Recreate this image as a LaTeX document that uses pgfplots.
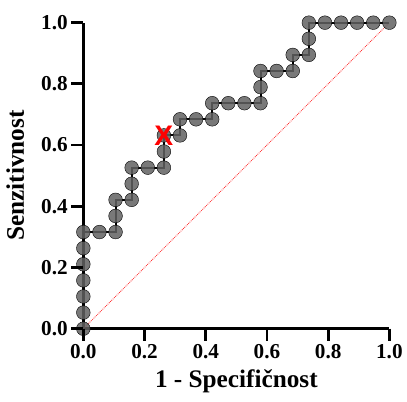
\documentclass[border={3bp 5bp 1bp 12bp}]{standalone}
\usepackage{fontspec}
\setmainfont{Liberation Serif}
\newfontfamily\xfont{Liberation Sans}
\usepackage{pgfplots}
\pgfplotsset{compat=1.18}
\begin{document}
\begin{tikzpicture}
\begin{axis}[
  scale only axis, width=303bp, height=303bp,
  xmin=0, xmax=1, ymin=0, ymax=1,
  axis x line*=bottom, axis y line*=left,
  axis line style={line width=2.8pt, -},
  xtick={0,0.2,0.4,0.6,0.8,1.0}, ytick={0,0.2,0.4,0.6,0.8,1.0},
  xticklabels={0.0,0.2,0.4,0.6,0.8,1.0}, yticklabels={0.0,0.2,0.4,0.6,0.8,1.0},
  tickwidth=12bp,
  xtick align=outside, ytick align=outside,
  xtick style={line width=2.8pt, draw=black},
  ytick style={line width=2.8pt, draw=black},
  tick label style={font=\fontsize{21bp}{23bp}\selectfont\bfseries},
  /pgf/number format/assume math mode=true,
  xlabel={1 - Specifičnost}, ylabel={Senzitivnost},
  label style={font=\fontsize{25bp}{27bp}\selectfont\bfseries},
  xlabel style={yshift=-4bp},
  ylabel style={yshift=10bp},
]
\addplot[red!80, densely dotted, line width=0.8pt] coordinates {(0,0) (1,1)};
\addplot[only marks, mark=*, mark size=6.8bp, mark options={draw=none, fill=black!62, fill opacity=0.85}] table[x expr=\thisrowno{0}/19, y expr=\thisrowno{1}/19] {
0 0
0 1
0 2
0 3
0 4
0 5
0 6
1 6
2 6
2 7
2 8
3 8
3 9
3 10
4 10
5 10
5 11
5 12
6 12
6 13
7 13
8 13
8 14
9 14
10 14
11 14
11 15
11 16
12 16
13 16
13 17
14 17
14 18
14 19
15 19
16 19
17 19
18 19
19 19
};
\addplot[black, line width=2pt, mark=none] table[x expr=\thisrowno{0}/19, y expr=\thisrowno{1}/19] {
0 0
0 6
2 6
2 8
3 8
3 10
5 10
5 12
6 12
6 13
8 13
8 14
11 14
11 16
13 16
13 17
14 17
14 19
19 19
};
\addplot[only marks, mark=text, text mark={\fontsize{28bp}{28bp}\selectfont\xfont\bfseries\color{red}X}] coordinates {(0.2632,0.6316)};
\coordinate (x0) at (axis cs:0,0);
\coordinate (x1) at (axis cs:0.2,0);
\coordinate (x2) at (axis cs:0.4,0);
\coordinate (x3) at (axis cs:0.6,0);
\coordinate (x4) at (axis cs:0.8,0);
\coordinate (x5) at (axis cs:1,0);
\coordinate (y1) at (axis cs:0,0.2);
\coordinate (y2) at (axis cs:0,0.4);
\coordinate (y3) at (axis cs:0,0.6);
\coordinate (y4) at (axis cs:0,0.8);
\coordinate (y5) at (axis cs:0,1);
\end{axis}
\foreach \t in {x0,x1,x2,x3,x4,x5} {\draw[line width=2.8pt, black] (\t) -- ++(0,-12bp);}
\foreach \t in {x0,y1,y2,y3,y4,y5} {\draw[line width=2.8pt, black] (\t) -- ++(-12bp,0);}
\end{tikzpicture}
\end{document}
